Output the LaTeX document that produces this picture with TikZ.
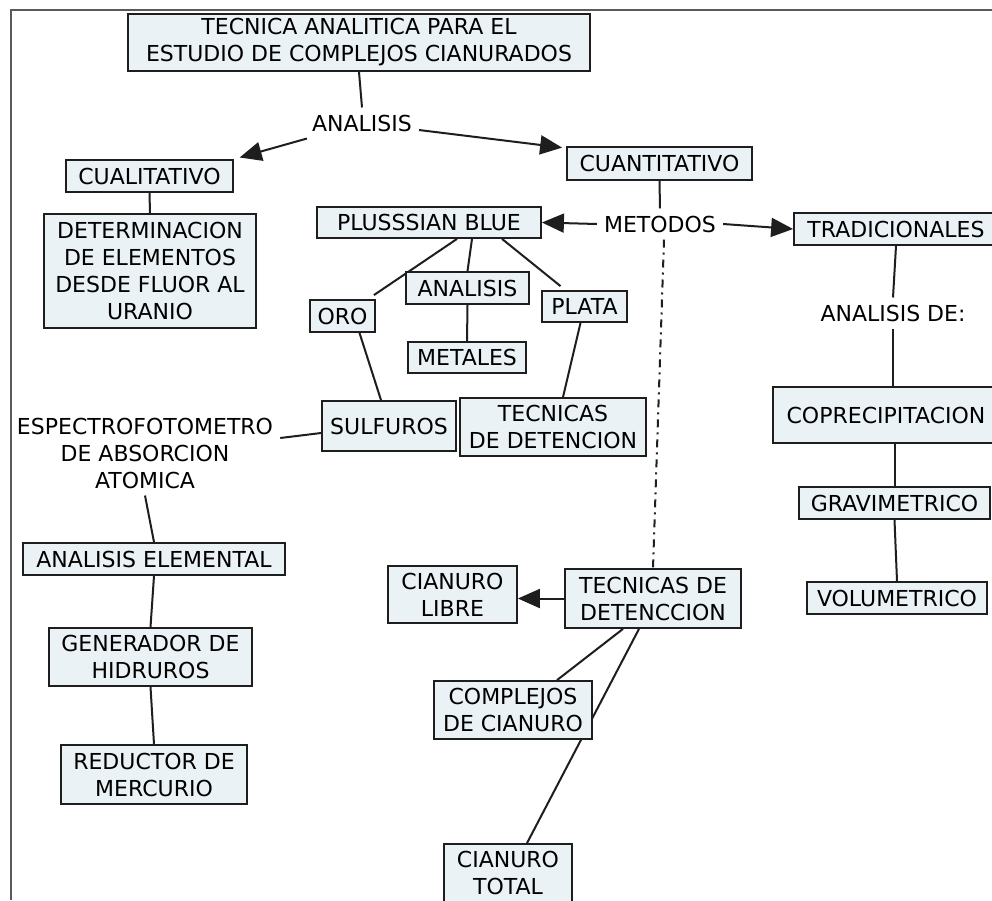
\documentclass[tikz,border=0pt]{standalone}
\usepackage{fontspec}
\setmainfont{DejaVu Sans}
\usetikzlibrary{arrows.meta}
\pgfdeclarelayer{bg}
\pgfsetlayers{bg,main}
\definecolor{boxfill}{RGB}{234,242,245}
\definecolor{boxline}{RGB}{30,30,30}
\definecolor{framecol}{RGB}{90,90,90}
\tikzset{
  box/.style={draw=boxline, fill=boxfill, line width=1.8pt, inner sep=0pt, align=center,
    font=\fontsize{22}{27}\selectfont},
  plain/.style={inner sep=7pt, align=center, font=\fontsize{22}{27}\selectfont},
  conn/.style={draw=boxline, line width=2pt},
  arr/.style={conn, -{Triangle[length=22pt,width=19pt]}},
  dashdot/.style={draw=boxline, line width=2pt, dash pattern=on 8pt off 5pt on 2pt off 5pt},
}
\begin{document}
\begin{tikzpicture}[x=1pt,y=-1pt]
\useasboundingbox (0,0) rectangle (992,900);

% nodes
\node[box, minimum width=462pt, minimum height=57pt] (title) at (359,42.5) {TECNICA ANALITICA PARA EL\\ESTUDIO DE COMPLEJOS CIANURADOS};
\node[plain] (analisis) at (362,123) {ANALISIS};
\node[box, minimum width=167pt, minimum height=32pt] (cual) at (149.5,176) {CUALITATIVO};
\node[box, minimum width=212pt, minimum height=114pt] (determ) at (150,271) {DETERMINACION\\DE ELEMENTOS\\DESDE FLUOR AL\\URANIO};
\node[box, minimum width=185pt, minimum height=33pt] (cuant) at (659.5,163.5) {CUANTITATIVO};
\node[plain] (metodos) at (660,224) {METODOS};
\node[box, minimum width=224pt, minimum height=31pt] (pb) at (429,222.5) {PLUSSSIAN BLUE};
\node[box, minimum width=65pt, minimum height=32pt] (oro) at (342.5,316) {ORO};
\node[box, minimum width=123pt, minimum height=32pt] (anal2) at (467.5,288) {ANALISIS};
\node[box, minimum width=118pt, minimum height=31pt] (metales) at (467,357.5) {METALES};
\node[box, minimum width=85pt, minimum height=31pt] (plata) at (584.5,306.5) {PLATA};
\node[box, minimum width=134pt, minimum height=50pt] (sulf) at (389,426) {SULFUROS};
\node[box, minimum width=186pt, minimum height=58pt] (tecdet) at (553,427) {TECNICAS\\DE DETENCION};
\node[plain] (espectro) at (145,453) {ESPECTROFOTOMETRO\\DE ABSORCION\\ATOMICA};
\node[box, minimum width=262pt, minimum height=32pt] (anaelem) at (154,559) {ANALISIS ELEMENTAL};
\node[box, minimum width=203pt, minimum height=58pt] (gener) at (150.5,657) {GENERADOR DE\\HIDRUROS};
\node[box, minimum width=186pt, minimum height=59pt] (reduct) at (154,774.5) {REDUCTOR DE\\MERCURIO};
\node[box, minimum width=204pt, minimum height=32pt] (trad) at (896,229) {TRADICIONALES};
\node[plain] (analde) at (893,313) {ANALISIS DE:};
\node[box, minimum width=226pt, minimum height=56pt] (copre) at (886,415) {COPRECIPITACION};
\node[box, minimum width=191pt, minimum height=32pt] (grav) at (894.5,503) {GRAVIMETRICO};
\node[box, minimum width=180pt, minimum height=32pt] (vol) at (897,598) {VOLUMETRICO};
\node[box, minimum width=176pt, minimum height=59pt] (tdd) at (653,598.5) {TECNICAS DE\\DETENCCION};
\node[box, minimum width=129pt, minimum height=57pt] (clibre) at (452.5,594.5) {CIANURO\\LIBRE};
\node[box, minimum width=158pt, minimum height=58pt] (compl) at (513,710) {COMPLEJOS\\DE CIANURO};
\node[box, minimum width=128pt, minimum height=58pt] (ctotal) at (508,873) {CIANURO\\TOTAL};

% connectors
\begin{pgfonlayer}{bg}
\fill[white] (0,0) rectangle (992,900);
\draw[framecol, line width=1.5pt] (11,900) coordinate (fbl) -- (11,10) coordinate (ftl) -- (992,10) coordinate (ftr);
\draw[conn] (title.south) -- (analisis.north);
\draw[arr, shorten >=6pt] (analisis) -- (cual.north east);
\draw[arr, shorten >=4pt] (analisis) -- ([yshift=-2pt]cuant.north west);
\draw[conn] (cual.south) -- (determ.north);
\draw[conn] (cuant.south) -- (metodos.north);
\draw[arr] (metodos.west) -- (pb.east);
\draw[arr] (metodos.east) -- (trad.west);
\draw[dashdot] ([xshift=4pt]metodos.south) -- (tdd.north);
\draw[conn] ([xshift=28pt]pb.south) -- ([xshift=-2pt,yshift=4pt]oro.north east);
\draw[conn] ([xshift=43pt]pb.south) -- (anal2.north);
\draw[conn] ([xshift=73pt]pb.south) -- ([xshift=-24pt,yshift=4pt]plata.north);
\draw[conn] (anal2.south) -- (metales.north);
\draw[conn] ([xshift=17pt]oro.south) -- ([xshift=-8pt]sulf.north);
\draw[conn] ([xshift=-4pt]plata.south) -- ([xshift=10pt]tecdet.north);
\draw[conn] ([yshift=15pt]espectro.east) -- ([yshift=-7pt]sulf.west);
\draw[conn] (espectro.south) -- (anaelem.north);
\draw[conn] (anaelem.south) -- (gener.north);
\draw[conn] (gener.south) -- (reduct.north);
\draw[conn] (trad.south) -- (analde.north);
\draw[conn] (analde.south) -- (analde.south |- copre.north);
\draw[conn] (grav.north |- copre.south) -- (grav.north);
\draw[conn] (grav.south) -- (vol.north);
\draw[arr] (tdd.west) -- (tdd.west -| clibre.east);
\draw[conn] ([xshift=-30pt]tdd.south) -- ([xshift=44pt]compl.north);
\draw[conn] ([xshift=-14pt]tdd.south) -- ([xshift=19pt]ctotal.north);
\end{pgfonlayer}
\end{tikzpicture}
\end{document}
